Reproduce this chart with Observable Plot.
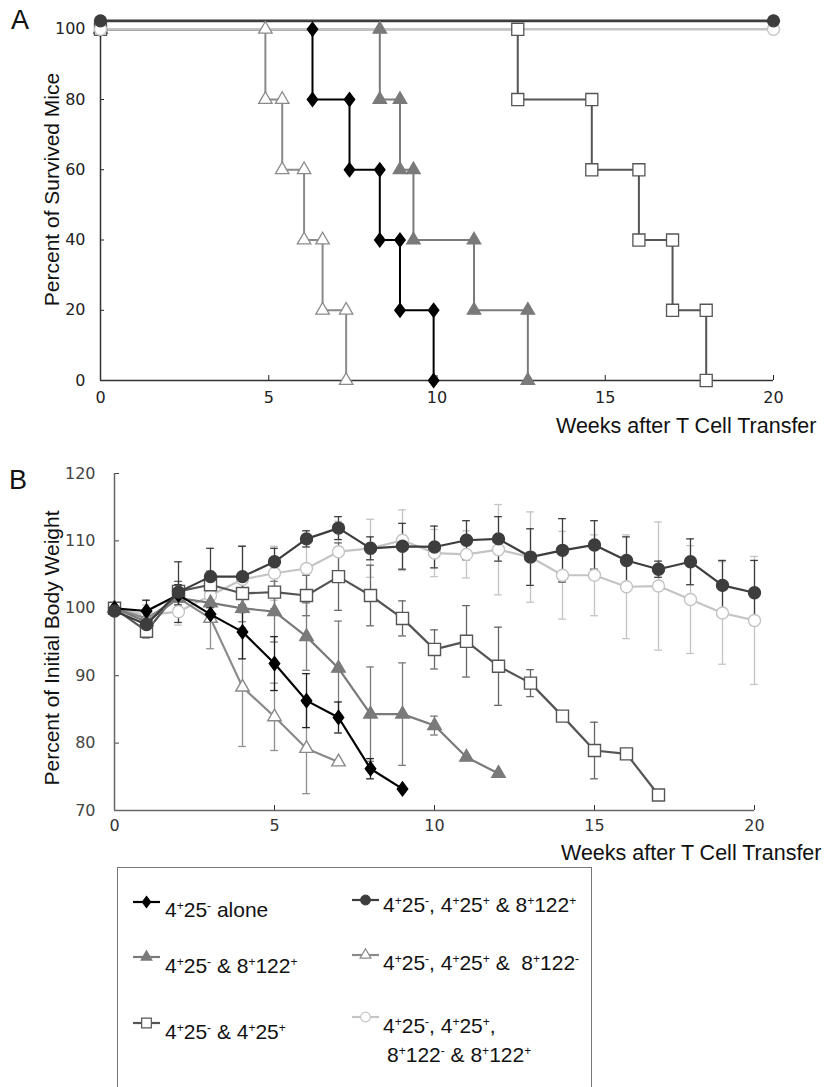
<!DOCTYPE html>
<html><head><meta charset="utf-8">
<script src="https://cdn.jsdelivr.net/npm/d3@7"></script>
<script src="https://cdn.jsdelivr.net/npm/@observablehq/plot@0.6"></script>
<style>
html,body{margin:0;padding:0;background:#fff;}
body{width:834px;height:1087px;overflow:hidden;position:relative;font-family:"Liberation Sans",Arial,sans-serif;color:#111;}
.abs{position:absolute;}
.plab{font-size:27px;line-height:27px;}
#legend{position:absolute;left:117px;top:867px;width:475px;height:260px;border:1.5px solid #777;box-sizing:border-box;}
.lt{position:absolute;font-size:21px;line-height:24px;white-space:pre;}
.lt sup{font-size:12px;vertical-align:7px;line-height:0;}
.sw{position:absolute;}
</style>
</head><body>
<div id="A" class="abs" style="left:0;top:0"></div>
<div id="B" class="abs" style="left:0;top:440px"></div>
<div class="abs plab" style="left:11px;top:7px">A</div>
<div class="abs plab" style="left:9px;top:467px">B</div>
<div id="legend"></div>
<div id="legitems"></div>
<script>
// ---------- labels ----------
const seriesNames = [
  "4+25- alone",
  "4+25- & 8+122+",
  "4+25- & 4+25+",
  "4+25-, 4+25+ & 8+122+",
  "4+25-, 4+25+ &  8+122-",
  "4+25-, 4+25+,\n8+122- & 8+122+"
];
const xTicks = [0, 5, 10, 15, 20];
const yTicksA = [0, 20, 40, 60, 80, 100];
const yTicksB = [70, 80, 90, 100, 110, 120];
const xLabel = "Weeks after T Cell Transfer";
const yLabelA = "Percent of Survived Mice";
const yLabelB = "Percent of Initial Body Weight";

// ---------- Panel A: survival (weeks at which each step down occurs) ----------
const kmLevels = [80, 60, 40, 20, 0];
const kmAloneT = [6.3, 7.4, 8.3, 8.9, 9.9];
const kmF8T = [8.3, 8.9, 9.3, 11.1, 12.7];
const kmF4T = [12.4, 14.6, 16.0, 17.0, 18.0];
const kmNegT = [4.9, 5.4, 6.05, 6.6, 7.3];
const kmAllT = [0, 20], kmAllP = [102.4, 102.4];
const kmMixT = [0, 20], kmMixP = [100, 100];

// ---------- Panel B: body weight (mean, error) by week ----------
const bwAlone = [100, 99.6, 102, 99.1, 96.5, 91.8, 86.3, 83.8, 76.2, 73.2];
const erAlone = [0.5, 1.6, 1.5, 1, 4, 4, 4, 2.3, 1.5, 0];
const bwF8 = [100, 98, 101.5, 100.8, 100, 99.5, 95.8, 91.1, 84.3, 84.3, 82.6, 77.9, 75.5];
const erF8 = [0.5, 1, 1.5, 2, 2, 4.5, 5, 7, 7, 7.6, 1.4, 0, 0];
const bwF4 = [100, 96.6, 102.5, 103.5, 102.2, 102.4, 101.9, 104.7, 101.9, 98.5, 93.9, 95.1, 91.4, 88.9, 84.0, 78.9, 78.4, 72.3];
const erF4 = [0.5, 1, 1.5, 2, 2, 2.5, 3, 5, 4.5, 2.6, 2.9, 5.3, 5.8, 2, 0, 4.2, 0, 0];
const bwAll = [99.6, 97.6, 102.4, 104.7, 104.7, 106.9, 110.3, 111.9, 108.9, 109.2, 109.1, 110.1, 110.3, 107.6, 108.6, 109.4, 107.1, 105.8, 106.9, 103.4, 102.3];
const erAll = [0.5, 1.5, 4.5, 4.2, 4.5, 2, 1.2, 1.7, 1.7, 3.4, 3.1, 2.9, 3.3, 4.2, 4.7, 3.6, 3.5, 1.2, 3.4, 3.7, 4.8];
const bwNeg = [100, 98.5, 101.5, 98.5, 88.3, 83.9, 79.2, 77.2];
const erNeg = [0.5, 1, 1.5, 4.5, 8.8, 5, 6.7, 0];
const bwMix = [100, 99, 99.5, 101.9, 104.3, 105.2, 105.9, 108.4, 108.9, 110.1, 108.2, 108.0, 108.7, 107.6, 104.9, 104.9, 103.2, 103.3, 101.3, 99.3, 98.2];
const erMix = [0.5, 1.5, 2, 3, 5, 4, 5, 4.5, 4.3, 4.5, 3.5, 3.5, 6.7, 6.7, 6.5, 6, 7.7, 9.5, 8, 7.6, 9.5];

// ---------- styles ----------
const diamondSym = {draw(ctx, size) {
  const h = Math.sqrt(size / 1.5), w = h * 0.75;
  ctx.moveTo(0, -h); ctx.lineTo(w, 0); ctx.lineTo(0, h); ctx.lineTo(-w, 0); ctx.closePath();
}};
const st = {
  alone: {line: "#000", err: "#222", fill: "#000", stroke: "#000", sym: diamondSym, r: 4.8},
  f8:    {line: "#7a7a7a", err: "#7a7a7a", fill: "#7a7a7a", stroke: "#7a7a7a", sym: "triangle", r: 5},
  f4:    {line: "#555", err: "#666", fill: "#fff", stroke: "#555", sym: "square", r: 6.8},
  all:   {line: "#3d3d3d", err: "#3d3d3d", fill: "#3d3d3d", stroke: "#3d3d3d", sym: "circle", r: 6},
  neg:   {line: "#8a8a8a", err: "#8f8f8f", fill: "#fff", stroke: "#8a8a8a", sym: "triangle", r: 5},
  mix:   {line: "#c4c4c4", err: "#c4c4c4", fill: "#fff", stroke: "#c4c4c4", sym: "circle", r: 6}
};
const tickFont = "DejaVu Sans, sans-serif";
const titleFont = "Liberation Sans, Arial, sans-serif";

// ---------- Panel A ----------
function steps(times, levels, start) {
  const pts = [{x: 0, y: start}]; let prev = start;
  times.forEach((t, i) => { pts.push({x: t, y: prev}, {x: t, y: levels[i]}); prev = levels[i]; });
  return pts;
}
const flat = (T, P) => T.map((t, i) => ({x: t, y: P[i]}));
const A_steps = [
  [steps(kmNegT, kmLevels, 100), st.neg],
  [steps(kmAloneT, kmLevels, 100), st.alone],
  [steps(kmF8T, kmLevels, 100), st.f8],
  [steps(kmF4T, kmLevels, 100), st.f4]
];
const A_flat = [[flat(kmMixT, kmMixP), st.mix], [flat(kmAllT, kmAllP), st.all]];

const marksA = [
  Plot.axisX({ticks: xTicks, tickSize: -5, tickPadding: 16, label: null, fontSize: 16, fontFamily: tickFont, color: "#222"}),
  Plot.axisY({ticks: yTicksA, tickSize: -4, tickPadding: 19, label: null, fontSize: 16, fontFamily: tickFont, color: "#222"}),
  Plot.ruleX([0], {stroke: "#333", strokeWidth: 1.5}),
  Plot.ruleY([0], {stroke: "#333", strokeWidth: 1.5}),
  Plot.text([yLabelA], {frameAnchor: "left", textAnchor: "middle", rotate: -90, dx: -48, dy: -11, fontSize: 21, fontFamily: titleFont, fill: "#111"}),
  Plot.text([xLabel], {frameAnchor: "bottom-right", textAnchor: "end", dx: 43, dy: 52, fontSize: 21.5, fontFamily: titleFont, fill: "#111"})
];
A_steps.forEach(([d, s]) => marksA.push(Plot.line(d, {x: "x", y: "y", stroke: s.line, strokeWidth: 2})));
A_flat.forEach(([d, s]) => marksA.push(Plot.line(d, {x: "x", y: "y", stroke: s.line, strokeWidth: 2.6})));
A_steps.forEach(([d, s]) => marksA.push(Plot.dot(d, {x: "x", y: "y", symbol: s.sym, r: s.r, fill: s.fill, stroke: s.stroke, strokeWidth: 1.3})));
A_flat.forEach(([d, s]) => marksA.push(Plot.dot(d, {x: "x", y: "y", symbol: s.sym, r: s.r, fill: s.fill, stroke: s.stroke, strokeWidth: 1.3})));

const chartA = Plot.plot({
  width: 834, height: 440,
  marginLeft: 100, marginRight: 61, marginTop: 20, marginBottom: 60,
  x: {domain: [0, 20]},
  y: {domain: [0, 102.5]},
  style: {background: "transparent", overflow: "visible"},
  marks: marksA
});
document.getElementById("A").append(chartA);

// ---------- Panel B ----------
const toPts = (Y, E) => Y.map((y, i) => ({x: i, y, e: E[i]}));
const B_series = [
  [toPts(bwMix, erMix), st.mix],
  [toPts(bwF4, erF4), st.f4],
  [toPts(bwNeg, erNeg), st.neg],
  [toPts(bwF8, erF8), st.f8],
  [toPts(bwAlone, erAlone), st.alone],
  [toPts(bwAll, erAll), st.all]
];
const marksB = [
  Plot.axisX({ticks: xTicks, tickSize: -5, tickPadding: 14, label: null, fontSize: 16, fontFamily: tickFont, color: "#333"}),
  Plot.axisY({ticks: yTicksB, tickSize: -5, tickPadding: 24, label: null, fontSize: 16, fontFamily: tickFont, color: "#444"}),
  Plot.ruleX([0], {stroke: "#666", strokeWidth: 1.5}),
  Plot.ruleY([70], {stroke: "#666", strokeWidth: 1.5}),
  Plot.text([yLabelB], {frameAnchor: "left", textAnchor: "middle", rotate: -90, dx: -62, dy: 6, fontSize: 21, fontFamily: titleFont, fill: "#111"}),
  Plot.text([xLabel], {frameAnchor: "bottom-right", textAnchor: "end", dx: 67, dy: 49, fontSize: 21.5, fontFamily: titleFont, fill: "#111"})
];
B_series.forEach(([d, s]) => {
  const de = d.filter(p => p.e > 0);
  marksB.push(Plot.ruleX(de, {x: "x", y1: p => p.y - p.e, y2: p => p.y + p.e, stroke: s.err, strokeWidth: 1.3}));
  marksB.push(Plot.ruleY(de, {y: p => p.y + p.e, x1: p => p.x - 0.12, x2: p => p.x + 0.12, stroke: s.err, strokeWidth: 1.3}));
  marksB.push(Plot.ruleY(de, {y: p => p.y - p.e, x1: p => p.x - 0.12, x2: p => p.x + 0.12, stroke: s.err, strokeWidth: 1.3}));
});
B_series.forEach(([d, s]) => {
  marksB.push(Plot.line(d, {x: "x", y: "y", stroke: s.line, strokeWidth: 2.2}));
  marksB.push(Plot.dot(d, {x: "x", y: "y", symbol: s.sym, r: s.r, fill: s.fill, stroke: s.stroke, strokeWidth: 1.4}));
});
const chartB = Plot.plot({
  width: 834, height: 420,
  marginLeft: 114, marginRight: 80, marginTop: 33, marginBottom: 50,
  x: {domain: [0, 20]},
  y: {domain: [70, 120]},
  style: {background: "transparent", overflow: "visible"},
  marks: marksB
});
document.getElementById("B").append(chartB);

// ---------- Legend ----------
const fmt = s => s.replace(/&/g, "&amp;").replace(/(\d)([+-])/g, "$1<sup>$2</sup>");
const legendStyles = [st.alone, st.f8, st.f4, st.all, st.neg, st.mix];
const legPos = [
  {sx: 133, sy: 902, tx: 165, ty: 898},
  {sx: 133, sy: 957, tx: 165, ty: 954},
  {sx: 133, sy: 1023, tx: 165, ty: 1020},
  {sx: 352, sy: 900, tx: 383, ty: 893},
  {sx: 352, sy: 955, tx: 383, ty: 951},
  {sx: 352, sy: 1017, tx: 383, ty: 1014}
];
const li = document.getElementById("legitems");
seriesNames.forEach((name, i) => {
  const s = legendStyles[i], p = legPos[i];
  const svg = d3.create("svg").attr("class", "sw").attr("width", 28).attr("height", 20)
    .style("left", p.sx + "px").style("top", (p.sy - 10) + "px");
  svg.append("line").attr("x1", 0).attr("x2", 27).attr("y1", 10).attr("y2", 10)
    .attr("stroke", s.line).attr("stroke-width", 2.2);
  const symType = typeof s.sym === "string" ? ({triangle: d3.symbolTriangle, square: d3.symbolSquare, circle: d3.symbolCircle})[s.sym] : s.sym;
  const rr = s.r * 0.8;
  svg.append("path").attr("transform", "translate(13.5,10)")
    .attr("d", d3.symbol(symType, rr * rr * Math.PI)())
    .attr("fill", s.fill).attr("stroke", s.stroke).attr("stroke-width", 1.2);
  li.append(svg.node());
  const lines = name.split("\n");
  lines.forEach((ln, j) => {
    const div = document.createElement("div");
    div.className = "lt";
    div.style.left = (p.tx + (j ? 4 : 0)) + "px";
    div.style.top = (p.ty + j * 29) + "px";
    div.innerHTML = fmt(ln);
    li.append(div);
  });
});
</script>
</body></html>
